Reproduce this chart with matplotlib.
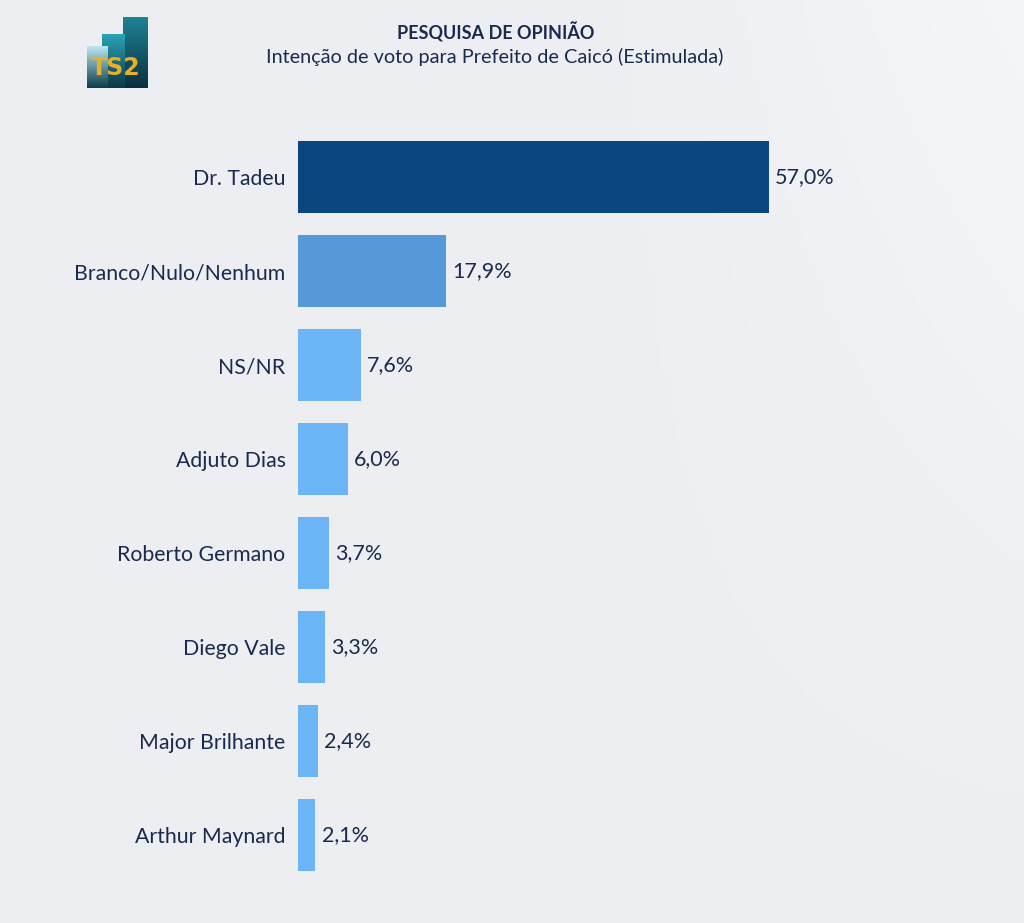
import matplotlib.pyplot as plt
import numpy as np
from matplotlib.colors import to_rgb

# dados da pesquisa
candidatos = ["Dr. Tadeu", "Branco/Nulo/Nenhum", "NS/NR", "Adjuto Dias",
              "Roberto Germano", "Diego Vale", "Major Brilhante", "Arthur Maynard"]
percentuais = [57.0, 17.9, 7.6, 6.0, 3.7, 3.3, 2.4, 2.1]
cores = ["#0B4680", "#5599D8"] + ["#6BB5F6"] * 6

titulo = "PESQUISA DE OPINIÃO"
subtitulo = "Intenção de voto para Prefeito de Caicó (Estimulada)"

texto_cor = "#1A2A4C"
fundo = "#ECEEF2"

plt.rcParams['font.family'] = ['Lato', 'DejaVu Sans']

W, H = 1024, 923
fig = plt.figure(figsize=(W / 100, H / 100), dpi=100)
fig.patch.set_facecolor(fundo)

# leve gradiente de fundo
bg = fig.add_axes([0, 0, 1, 1], zorder=-10)
yy, xx = np.mgrid[0:1:200j, 0:1:200j]
glow = 0.5 * np.clip(xx - 0.55, 0, None) * np.clip(1 - yy, 0, None) * 2
base = np.array(to_rgb(fundo))
img = base[None, None, :] + glow[..., None] * (1 - base[None, None, :])
bg.imshow(img, aspect='auto', extent=[0, 1, 0, 1], origin='upper')
bg.axis('off')

# eixo das barras (px -> fração)
left_px, right_px = 298, 1000
top_px, bot_px = 130, 882
ax = fig.add_axes([left_px / W, 1 - bot_px / H,
                   (right_px - left_px) / W, (bot_px - top_px) / H])
ax.set_facecolor('none')
escala = 471 / 57.0  # px por ponto percentual
ax.set_xlim(0, (right_px - left_px) / escala)
y = np.arange(len(candidatos))
ax.barh(y, percentuais, height=0.77, color=cores)
ax.set_ylim(len(candidatos) - 0.5, -0.5)

for yi, v in zip(y, percentuais):
    ax.text(v + 0.75, yi, f"{v:.1f}%".replace('.', ','), va='center', ha='left',
            fontsize=15.5, color=texto_cor)

ax.set_yticks(y)
ax.set_yticklabels(candidatos, fontsize=15.3, color=texto_cor)
ax.tick_params(axis='y', length=0, pad=9)
ax.set_xticks([])
for s in ax.spines.values():
    s.set_visible(False)

# títulos
fig.text(496 / W, 1 - 32 / H, titulo, ha='center', va='center',
         fontsize=13, fontweight='bold', color=texto_cor)
fig.text(495 / W, 1 - 57 / H, subtitulo, ha='center', va='center',
         fontsize=14.3, color=texto_cor)

# logo TS2 (barras com gradiente)
lx0, ly0, lx1, ly1 = 80, 12, 152, 92
logo = fig.add_axes([lx0 / W, 1 - ly1 / H, (lx1 - lx0) / W, (ly1 - ly0) / H])
logo.set_xlim(lx0, lx1)
logo.set_ylim(ly1, ly0)
logo.axis('off')

def barra_logo(x0, x1, y0, y1, topo, base_cor):
    t = np.linspace(0, 1, 60)[:, None, None]
    grad = np.array(to_rgb(topo)) * (1 - t) + np.array(to_rgb(base_cor)) * t
    grad = np.repeat(grad, 2, axis=1)
    logo.imshow(grad, extent=[x0, x1, y1, y0], aspect='auto')

barra_logo(123, 148, 17, 88, "#1E8496", "#0B2F3C")
barra_logo(102, 125, 34, 88, "#2AA3B6", "#0D3846")
barra_logo(87, 108, 46, 88, "#B9E8F0", "#0F3E4C")
logo.set_xlim(lx0, lx1)
logo.set_ylim(ly1, ly0)
logo.text(116, 68, "TS2", ha='center', va='center', fontsize=17,
          fontweight='bold', color="#E8B02A", family='DejaVu Sans')

fig.savefig("out.png", dpi=100, facecolor=fig.get_facecolor())
